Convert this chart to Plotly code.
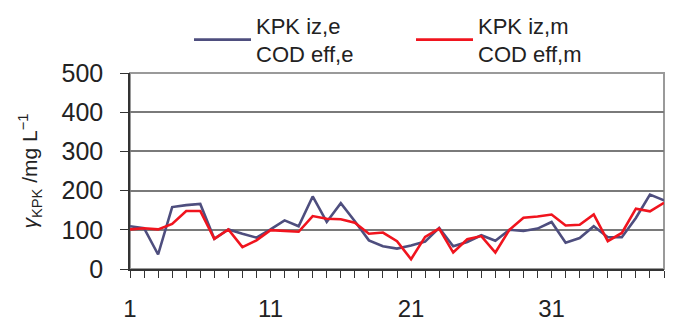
import plotly.graph_objects as go

days = list(range(1, 40))
kpk_e = [109, 104, 37, 158, 163, 166, 77, 101, 90, 80,
         101, 124, 109, 185, 120, 168, 122, 73, 58, 52,
         60, 70, 105, 58, 69, 86, 72, 100, 97, 103,
         120, 67, 79, 109, 81, 81, 130, 190, 175]
kpk_m = [101, 104, 101, 115, 148, 148, 77, 101, 56, 73,
         99, 97, 95, 135, 128, 127, 118, 90, 93, 71,
         25, 82, 103, 42, 76, 84, 42, 100, 131, 134,
         139, 111, 113, 139, 71, 92, 154, 147, 169]
x_tick_labels = {1: "1", 11: "11", 21: "21", 31: "31"}
y_ticks = [0, 100, 200, 300, 400, 500]
names = ["KPK iz,e<br>COD eff,e", "KPK iz,m<br>COD eff,m"]

FONT = "Liberation Sans, Arial, sans-serif"

fig = go.Figure()
fig.add_trace(go.Scatter(x=days, y=kpk_e, mode="lines", name=names[0],
                         line=dict(color="#4e4e7e", width=2.6)))
fig.add_trace(go.Scatter(x=days, y=kpk_m, mode="lines", name=names[1],
                         line=dict(color="#f0141e", width=2.6)))

fig.update_layout(
    width=675, height=320,
    margin=dict(l=130, r=11, t=73, b=51, autoexpand=False),
    paper_bgcolor="white", plot_bgcolor="white",
    font=dict(family=FONT, color="#222222"),
    showlegend=True,
    legend=dict(orientation="h", xref="container", yref="container",
                x=0.28, y=0.875, xanchor="left", yanchor="middle",
                font=dict(size=22, color="#222222"), itemwidth=57,
                entrywidth=150, entrywidthmode="pixels", valign="middle",
                bgcolor="rgba(0,0,0,0)"),
    xaxis=dict(range=[1, 39], tickmode="array", tickvals=days,
               ticktext=[x_tick_labels.get(d, "") for d in days],
               ticks="outside", ticklen=7, tickwidth=1.2, tickcolor="#333333",
               showline=True, linecolor="#333333", linewidth=1.5,
               showgrid=False, zeroline=False, mirror=False, automargin=False,
               tickfont=dict(size=24, color="#222222"), ticklabelstandoff=10),
    yaxis=dict(range=[0, 500], tickmode="array", tickvals=y_ticks,
               ticks="outside", ticklen=8, tickwidth=1.2, tickcolor="#333333",
               showline=True, linecolor="#333333", linewidth=1.5,
               showgrid=True, gridcolor="#7a7a7a", gridwidth=1.5, zeroline=False,
               automargin=False,
               tickfont=dict(size=25, color="#222222"), ticklabelstandoff=12,
               title=dict(text="<i>γ</i><sub>KPK</sub> /mg L<sup>−1</sup>",
                          font=dict(size=21, color="#222222"), standoff=18)),
    shapes=[dict(type="rect", xref="paper", yref="paper", x0=0, x1=1, y0=0, y1=1,
                 line=dict(color="#9a9a9a", width=2), layer="below")],
)

fig.write_html("out.html", config={"displayModeBar": False},
               post_script="document.body.style.margin='0';")
